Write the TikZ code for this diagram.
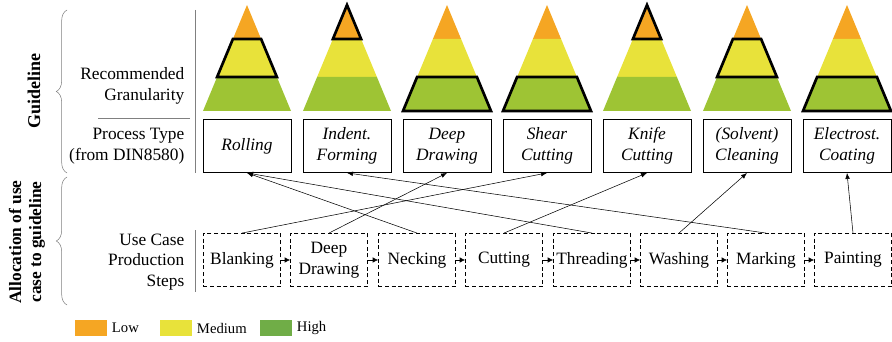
\documentclass[tikz,border=0pt]{standalone}
\usepackage{fontspec}
\setmainfont{Liberation Serif}
\usetikzlibrary{decorations.pathreplacing, arrows.meta}

\definecolor{glow}{RGB}{245, 166, 35}
\definecolor{gmed}{RGB}{232, 226, 58}
\definecolor{ghigh}{RGB}{158, 196, 52}
\definecolor{legend high}{RGB}{112, 173, 71}

\tikzset{
  proc/.style={draw, thin, minimum width=66pt, minimum height=40pt, inner sep=1pt, align=center, font=\fontsize{13}{15.5}\selectfont\itshape},
  stepbox/.style={draw, thin, dash pattern=on 3pt off 2pt, minimum width=58pt, minimum height=40pt, inner sep=1pt, align=center},
  rowlabel/.style={anchor=east, align=right},
  sep/.style={gray, thin},
  legbox/.style={minimum width=24pt, minimum height=12.5pt, inner sep=0pt},
  link/.style={-{Latex[length=4.5pt, width=3.5pt]}, thin},
  flow/.style={-{Latex[length=4pt, width=4pt]}, thin},
}

\begin{document}
\begin{tikzpicture}[x=0.75pt, y=-0.75pt, font=\fontsize{13}{15.5}\selectfont]
  \useasboundingbox (0,0) rectangle (892,342);

  % --- pyramids ---
  \foreach \i/\lvl in {1/2, 2/1, 3/3, 4/3, 5/1, 6/2, 7/3} {
      \pgfmathsetmacro{\cx}{147+100*\i}
      \fill[glow]  (\cx,5) -- (\cx+14.1,39) -- (\cx-14.1,39) -- cycle;
      \fill[gmed]  (\cx-14.1,39) -- (\cx+14.1,39) -- (\cx+29.9,77) -- (\cx-29.9,77) -- cycle;
      \fill[ghigh] (\cx-29.9,77) -- (\cx+29.9,77) -- (\cx+44,111) -- (\cx-44,111) -- cycle;
      % the recommended level
      \ifcase\lvl\or
        \draw[line width=2pt, line join=miter] (\cx,5) -- (\cx+14.1,39) -- (\cx-14.1,39) -- cycle;
      \or
        \draw[line width=2pt] (\cx-14.1,39) -- (\cx+14.1,39) -- (\cx+29.9,77) -- (\cx-29.9,77) -- cycle;
      \or
        \draw[line width=2pt] (\cx-29.9,77) -- (\cx+29.9,77) -- (\cx+44,111) -- (\cx-44,111) -- cycle;
      \fi
    }

  % --- process types ---
  \node[proc] (rolling) at (247,146) {Rolling};
  \node[proc] (indent)  at (347,146) {Indent.\\Forming};
  \node[proc] (deep)    at (447,146) {Deep\\Drawing};
  \node[proc] (shear)   at (547,146) {Shear\\Cutting};
  \node[proc] (knife)   at (647,146) {Knife\\Cutting};
  \node[proc] (clean)   at (747,146) {(Solvent)\\Cleaning};
  \node[proc] (coat)    at (847,146) {Electrost.\\Coating};

  % --- production steps ---
  \node[stepbox] (blank)  at (242,260) {Blanking};
  \node[stepbox] (sdeep)  at (329,260) {Deep\\Drawing};
  \node[stepbox] (neck)   at (417,260) {Necking};
  \node[stepbox] (cut)    at (504,260) {Cutting};
  \node[stepbox] (thread) at (592,260) {Threading};
  \node[stepbox] (wash)   at (679,260) {Washing};
  \node[stepbox] (mark)   at (766,260) {Marking};
  \node[stepbox] (paint)  at (853,260) {Painting};

  \foreach \a/\b in {blank/sdeep, sdeep/neck, neck/cut, cut/thread, thread/wash, wash/mark, mark/paint}
    \draw[flow] (\a) -- (\b);

  % --- allocation ---
  \draw[link] (blank.north)  -- (shear.south);
  \draw[link] (sdeep.north)  -- (deep.south);
  \draw[link] (neck.north)   -- (rolling.south);
  \draw[link] (cut.north)    -- (knife.south);
  \draw[link] (thread.north) -- (rolling.south);
  \draw[link] (wash.north)   -- (clean.south);
  \draw[link] (mark.north)   -- (indent.south);
  \draw[link] (paint.north)  -- (coat.south);

  % --- row labels ---
  \node[rowlabel] (granlabel) at (189,86)  {Recommended\\Granularity};
  \node[rowlabel] (typelabel) at (189,146) {Process Type\\(from DIN8580)};
  \node[rowlabel] (steplabel) at (189,262) {Use Case\\Production\\Steps};
  \draw[sep] (195,10) -- (195,173);
  \draw[sep] (98,118) -- (190,118);
  \draw[sep] (195,230) -- (195,292);

  % braces
  \draw[gray, thin, decorate, decoration={brace, amplitude=8pt}] (67,173) -- (67,10);
  \draw[gray, thin, decorate, decoration={brace, amplitude=8pt}] (67,305) -- (67,177);
  \node[rotate=90, font=\fontsize{13.5}{15.5}\selectfont\bfseries] (guide) at (34,91) {Guideline};
  \node[rotate=90, align=center, font=\fontsize{13}{15}\selectfont\bfseries] (alloc) at (27,242) {Allocation of use\\case to guideline};

  % --- legend ---
  \node[legbox, fill=glow] (lowbox) at (91,328) {};
  \node[anchor=west] at (lowbox.east) {\fontsize{11}{13}\selectfont Low};
  \node[legbox, fill=gmed] (medbox) at (176,328) {};
  \node[anchor=west] at (medbox.east) {\fontsize{11}{13}\selectfont Medium};
  \node[legbox, fill=legend high] (highbox) at (276,328) {};
  \node[anchor=west] at (highbox.east) {\fontsize{11}{13}\selectfont High};

\end{tikzpicture}
\end{document}
